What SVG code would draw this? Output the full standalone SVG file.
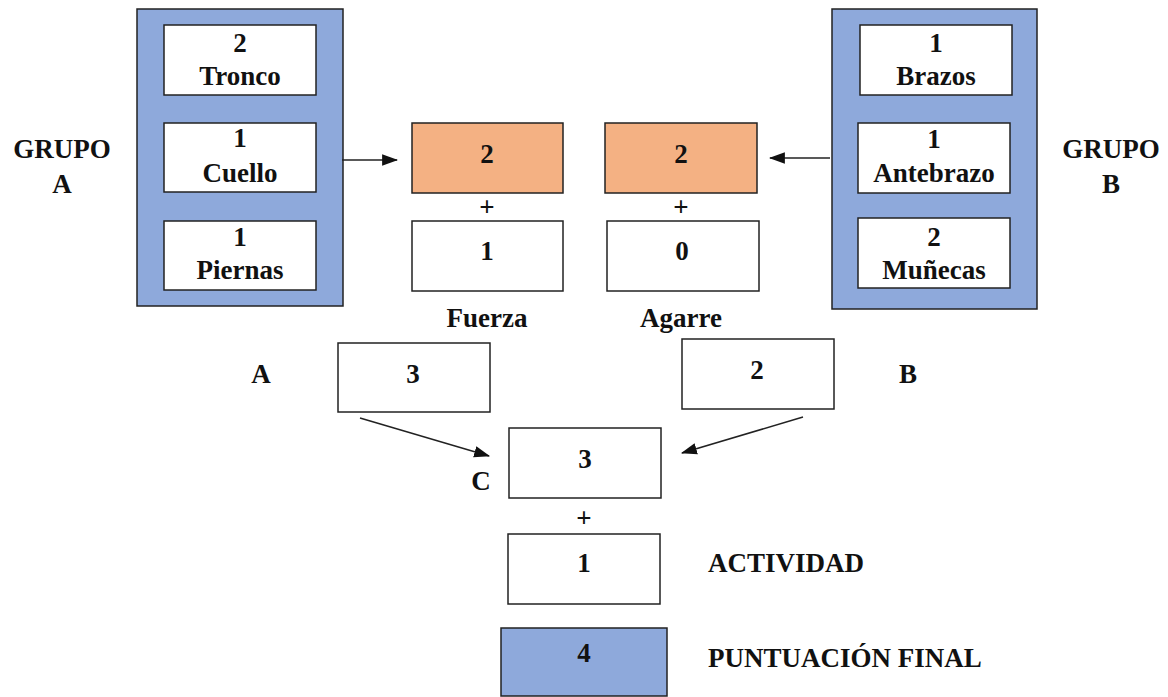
<svg xmlns="http://www.w3.org/2000/svg" width="1168" height="697" viewBox="0 0 1168 697">
<defs>
<style>
.t{font-family:"Liberation Serif","Times New Roman",serif;font-weight:bold;font-size:27px;fill:#111;text-anchor:middle}
.l{text-anchor:start}
.box{fill:#fff;stroke:#222;stroke-width:1.5}
.blue{fill:#8EA9DB;stroke:#222;stroke-width:1.5}
.org{fill:#F4B183;stroke:#222;stroke-width:1.5}
.c{stroke:#222;stroke-width:1.5;fill:none}
</style>
<marker id="ah" viewBox="0 0 14 10" refX="13" refY="5" markerWidth="16" markerHeight="12" markerUnits="userSpaceOnUse" orient="auto">
<path d="M0,0 L14,5 L0,10 z" fill="#111"/>
</marker>
</defs>
<rect width="1168" height="697" fill="#fff"/>
<g id="grupoA"><rect class="blue" x="137" y="9" width="206" height="297"/></g>
<g id="tronco"><rect class="box" x="164" y="25" width="152" height="70"/><text class="t" x="240" y="52">2</text><text class="t" x="240" y="85">Tronco</text></g>
<g id="cuello"><rect class="box" x="164" y="123" width="152" height="69"/><text class="t" x="240" y="147">1</text><text class="t" x="240" y="182">Cuello</text></g>
<g id="piernas"><rect class="box" x="164" y="221" width="152" height="69"/><text class="t" x="240" y="246">1</text><text class="t" x="240" y="279">Piernas</text></g>
<g id="grupoB"><rect class="blue" x="832" y="9" width="205" height="300"/></g>
<g id="brazos"><rect class="box" x="860" y="25" width="152" height="70"/><text class="t" x="936" y="52">1</text><text class="t" x="936" y="85">Brazos</text></g>
<g id="antebrazo"><rect class="box" x="858" y="123" width="152" height="70"/><text class="t" x="934" y="148">1</text><text class="t" x="934" y="182">Antebrazo</text></g>
<g id="munecas"><rect class="box" x="858" y="218" width="152" height="70"/><text class="t" x="934" y="246">2</text><text class="t" x="934" y="279">Muñecas</text></g>
<g id="labelGrupoA"><text class="t" x="62" y="158">GRUPO</text><text class="t" x="62" y="193">A</text></g>
<g id="labelGrupoB"><text class="t" x="1111" y="158">GRUPO</text><text class="t" x="1111" y="193">B</text></g>
<g id="orangeA"><rect class="org" x="412" y="123" width="151" height="70"/><text class="t" x="487" y="163">2</text></g>
<g id="orangeB"><rect class="org" x="605" y="123" width="152" height="70"/><text class="t" x="681" y="163">2</text></g>
<g id="plus1"><text class="t" x="487" y="216">+</text></g>
<g id="plus2"><text class="t" x="681" y="216">+</text></g>
<g id="fuerza"><rect class="box" x="412" y="221" width="151" height="70"/><text class="t" x="487" y="260">1</text><text class="t" x="487" y="327">Fuerza</text></g>
<g id="agarre"><rect class="box" x="607" y="221" width="152" height="70"/><text class="t" x="682" y="260">0</text><text class="t" x="681" y="327">Agarre</text></g>
<g id="boxA"><rect class="box" x="338" y="343" width="152" height="69"/><text class="t" x="413" y="383">3</text><text class="t" x="261" y="383">A</text></g>
<g id="boxB"><rect class="box" x="682" y="339" width="152" height="70"/><text class="t" x="757" y="379">2</text><text class="t" x="908" y="383">B</text></g>
<g id="boxC"><rect class="box" x="509" y="428" width="152" height="70"/><text class="t" x="585" y="468">3</text><text class="t" x="481" y="490">C</text></g>
<g id="plus3"><text class="t" x="584" y="527">+</text></g>
<g id="actividad"><rect class="box" x="508" y="534" width="152" height="70"/><text class="t" x="584" y="572">1</text><text class="t l" x="708" y="572">ACTIVIDAD</text></g>
<g id="final"><rect class="blue" x="501" y="628" width="166" height="68"/><text class="t" x="584" y="662">4</text><text class="t l" x="708" y="667">PUNTUACIÓN FINAL</text></g>
<g id="connectors">
<line class="c" x1="342" y1="160" x2="397" y2="160" marker-end="url(#ah)"/>
<line class="c" x1="830" y1="158" x2="770" y2="158" marker-end="url(#ah)"/>
<line class="c" x1="360" y1="418" x2="489" y2="456" marker-end="url(#ah)"/>
<line class="c" x1="803" y1="417" x2="682" y2="453" marker-end="url(#ah)"/>
</g>
</svg>
